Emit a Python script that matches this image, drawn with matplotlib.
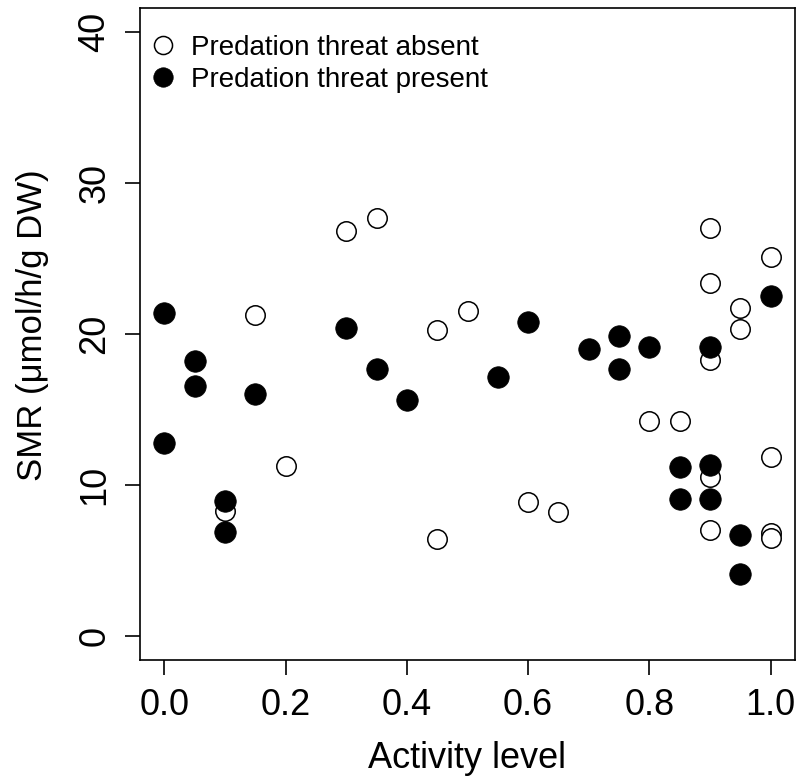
import matplotlib
matplotlib.use("Agg")
import matplotlib.pyplot as plt
from matplotlib.lines import Line2D

plt.rcParams['font.family'] = ['Liberation Sans', 'DejaVu Sans']

absent_x = [0.10, 0.15, 0.20, 0.30, 0.35, 0.45, 0.45, 0.50, 0.60, 0.65,
            0.80, 0.85, 0.90, 0.90, 0.90, 0.90, 0.90, 0.95, 0.95,
            1.00, 1.00, 1.00, 1.00]
absent_y = [8.25, 21.25, 11.25, 26.8, 27.7, 20.25, 6.4, 21.55, 8.9, 8.2,
            14.25, 14.25, 27.0, 23.4, 18.3, 10.55, 7.0, 21.75, 20.35,
            25.1, 11.85, 6.8, 6.5]

present_x = [0.00, 0.00, 0.05, 0.05, 0.10, 0.10, 0.15, 0.30, 0.35, 0.40,
             0.55, 0.60, 0.70, 0.75, 0.75, 0.80, 0.85, 0.85, 0.90, 0.90,
             0.90, 0.95, 0.95, 1.00]
present_y = [21.4, 12.8, 18.2, 16.55, 8.95, 6.9, 16.05, 20.4, 17.65, 15.65,
             17.15, 20.8, 19.0, 19.9, 17.65, 19.15, 11.2, 9.05, 19.15, 11.3,
             9.1, 6.65, 4.1, 22.5]

xticks = [0.0, 0.2, 0.4, 0.6, 0.8, 1.0]
yticks = [0, 10, 20, 30, 40]
legend_labels = ["Predation threat absent", "Predation threat present"]

fig = plt.figure(figsize=(8.01, 7.82), dpi=100)
ax = fig.add_axes([140/801, 1-660/782, 655/801, 652/782])

ax.plot(absent_x, absent_y, linestyle='none', marker='o', ms=14,
        mfc='white', mec='black', mew=1.1)
ax.plot(present_x, present_y, linestyle='none', marker='o', ms=15.5,
        mfc='black', mec='black', mew=0.5)

ax.set_xlim(-0.04, 1.04)
ax.set_ylim(-1.6, 41.6)
ax.set_xticks(xticks)
ax.set_xticklabels([f"{v:.1f}" for v in xticks])
ax.set_yticks(yticks)
ax.set_yticklabels([str(v) for v in yticks], rotation=90, va='center')
for s in ax.spines.values():
    s.set_linewidth(1.2)
ax.tick_params(direction='out', length=11, width=1.2, labelsize=26, pad=9)
ax.tick_params(axis='y', pad=9)
ax.set_xlabel("Activity level", fontsize=26, labelpad=13)
ax.set_ylabel("SMR (\u03bcmol/h/g DW)", fontsize=25)
ax.yaxis.set_label_coords(-0.139, 0.514)

handles = [Line2D([], [], linestyle='none', marker='o', ms=13, mfc='white', mec='black', mew=1.1),
           Line2D([], [], linestyle='none', marker='o', ms=14, mfc='black', mec='black', mew=0.5)]
ax.legend(handles, legend_labels, loc='upper left', frameon=False, fontsize=20,
          handlelength=0.8, handletextpad=0.6, borderaxespad=0.0, labelspacing=0.22,
          borderpad=0.0, bbox_to_anchor=(0.0183, 0.9585))

fig.savefig("out.png", dpi=100)
